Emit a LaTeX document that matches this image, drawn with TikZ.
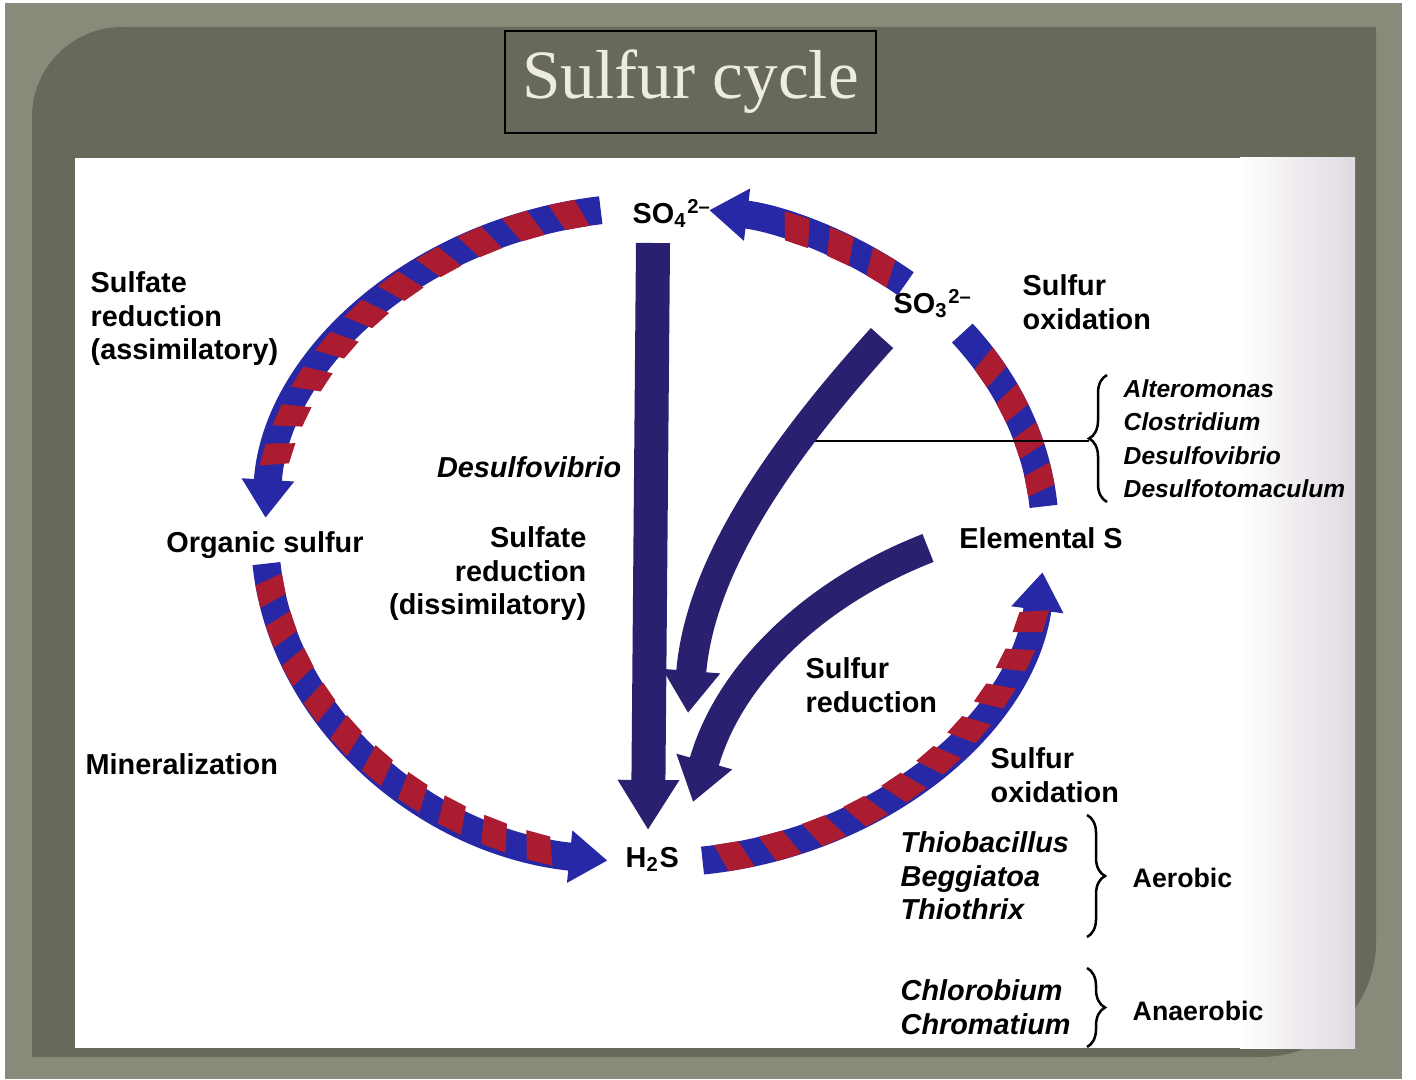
\documentclass[tikz,border=0pt]{standalone}
\usepackage{fontspec}
\setmainfont{Liberation Sans}
\newfontfamily\titlefont{Liberation Serif}
\usetikzlibrary{arrows.meta,decorations.pathreplacing}

\definecolor{frameout}{RGB}{136,139,121}
\definecolor{framein}{RGB}{103,105,90}
\definecolor{titletext}{RGB}{238,236,224}
\definecolor{scanedge}{RGB}{224,217,226}
\definecolor{bandblue}{RGB}{38,40,165}
\definecolor{bandred}{RGB}{172,28,48}
\definecolor{navy}{RGB}{42,32,112}

\tikzset{
    lbl/.style={font=\fontsize{8.2}{9.5}\selectfont\bfseries, inner sep=0pt},
    smalllbl/.style={font=\fontsize{7.6}{9.5}\selectfont\bfseries, inner sep=0pt},
    genus/.style={font=\fontsize{8.2}{9.5}\selectfont\bfseries\itshape, inner sep=0pt, align=left},
    smallgenus/.style={font=\fontsize{7}{9.5}\selectfont\bfseries\itshape, inner sep=0pt, align=left},
    titlebox/.style={draw=black, line width=0.02cm, fill=framein, minimum width=3.71cm,
            minimum height=1.02cm, text=titletext, font=\titlefont\fontsize{19.7}{22}\selectfont},
    band/.style={draw=bandblue, line width=0.28cm},
    bandhead/.style={-{Triangle[width=0.5cm,length=0.38cm]}},
    flow/.style={draw=navy, line width=0.3cm, -{Triangle[width=0.55cm,length=0.42cm]}},
    link/.style={draw=black, line width=0.02cm},
    brace/.style={draw=black, line width=0.025cm, decorate,
            decoration={brace, amplitude=0.18cm}},
}

\begin{document}
\begin{tikzpicture}[x=0.01cm, y=-0.01cm]
    % slide frame
    \useasboundingbox (0,0) rectangle (1416,1079);
    \fill[white] (0,0) rectangle (1416,1079);
    \fill[frameout] (5,3) rectangle (1402,1079);
    \fill[framein] (32,1057) -- (32,300) [rounded corners=0.9cm] -- (32,27) -- (500,27)
        [sharp corners] -- (1376,27) -- (1376,700) [rounded corners=1.15cm] -- (1376,1057)
        -- (700,1057) [sharp corners] -- cycle;
    \fill[white] (75,158) rectangle (1355,1048);
    \shade[left color=white, right color=scanedge] (1240,158) rectangle (1355,1048);

    \node[titlebox] (title) at (690.5,82) {Sulfur cycle};

    % compounds
    \node[lbl, anchor=base west] (so4) at (632,223) {SO\textsubscript{4}\textsuperscript{2–}};
    \node[lbl, anchor=base west] (so3) at (893,313) {SO\textsubscript{3}\textsuperscript{2–}};
    \node[lbl, anchor=base] (orgs) at (265,552) {Organic sulfur};
    \node[lbl, anchor=base] (els) at (1041,548) {Elemental S};
    \node[lbl, anchor=base west] (hs) at (625,867) {H\textsubscript{2}S};

    % processes
    \node[lbl, anchor=north west, align=left] (asrlbl) at (90,271) {Sulfate\\reduction\\(assimilatory)};
    \node[lbl, anchor=base west] (minlbl) at (85,774) {Mineralization};
    \node[genus, anchor=base east] (dvlbl) at (622,477) {Desulfovibrio};
    \node[lbl, anchor=north east, align=right] (dsrlbl) at (587,526) {Sulfate\\reduction\\(dissimilatory)};
    \node[lbl, anchor=north west, align=left] (soxup) at (1022,274) {Sulfur\\oxidation};
    \node[lbl, anchor=north west, align=left] (srlbl) at (805,657) {Sulfur\\reduction};
    \node[lbl, anchor=north west, align=left] (soxlow) at (990,747) {Sulfur\\oxidation};

    % organisms
    \node[smallgenus, anchor=north west] (reducers) at (1123,379) {Alteromonas\\Clostridium\\Desulfovibrio\\Desulfotomaculum};
    \node[genus, anchor=north west] (aerobes) at (900,831) {Thiobacillus\\Beggiatoa\\Thiothrix};
    \node[smalllbl, anchor=base west] (aer) at (1132,887) {Aerobic};
    \node[genus, anchor=north west] (anaerobes) at (900,979) {Chlorobium\\Chromatium};
    \node[smalllbl, anchor=base west] (anaer) at (1132,1020) {Anaerobic};

    \draw[brace] (1107,502) -- (1107,375);
    \draw[brace] (1087,815) -- (1087,937);
    \draw[brace] (1087,968) -- (1087,1047);

    % striped cycle
    \coordinate (ctr) at (655,535);
    \path (ctr) ++(262:390 and 328) coordinate (a1)
          (ctr) ++(175:390 and 328) coordinate (a2)
          (ctr) ++(83:390 and 328) coordinate (a3)
          (ctr) ++(355:390 and 328) coordinate (a4)
          (ctr) ++(310:390 and 328) coordinate (a5);
    \draw[band, bandhead] (a1) arc[start angle=262, end angle=183, x radius=390, y radius=328];
    \draw[band, bandhead] (a2) arc[start angle=175, end angle=97, x radius=390, y radius=328];
    \draw[band, bandhead] (a3) arc[start angle=83, end angle=6.5, x radius=390, y radius=328];
    \draw[band] (a4) arc[start angle=355, end angle=322, x radius=390, y radius=328];
    \draw[band, bandhead] (a5) arc[start angle=310, end angle=278, x radius=390, y radius=328];

    % slanted red stripes on the bands
    \begin{scope}[shift={(ctr)}]
        \foreach \fa/\fb/\fl in {260/253/197, 173/166/110, 81/74/18, 353/346/332, 308/301/294}{
            \foreach \t in {\fa,\fb,...,\fl}{
                \fill[bandred] (\t:376 and 314) -- ({\t-3.8}:376 and 314)
                    -- ({\t-5.3}:404 and 342) -- ({\t-1.5}:404 and 342) -- cycle;
            }
        }
    \end{scope}

    % reductions to H2S
    \coordinate (lnstart) at (790,441);
    \coordinate (brtip) at (1089,441);
    \draw[link] (lnstart) -- (brtip);

    \coordinate (v1) at (653,243);
    \coordinate (v2) at (648,830);
    \draw[flow, line width=0.34cm, -{Triangle[width=0.58cm,length=0.5cm]}] (v1) -- (v2);
    \coordinate (b1) at (882,338);
    \coordinate (b2) at (688,713);
    \draw[flow] (b1) .. controls (790,440) and (700,560) .. (b2);
    \coordinate (c1) at (928,548);
    \coordinate (c2) at (693,802);
    \draw[flow] (c1) .. controls (820,590) and (730,670) .. (c2);
\end{tikzpicture}
\end{document}
